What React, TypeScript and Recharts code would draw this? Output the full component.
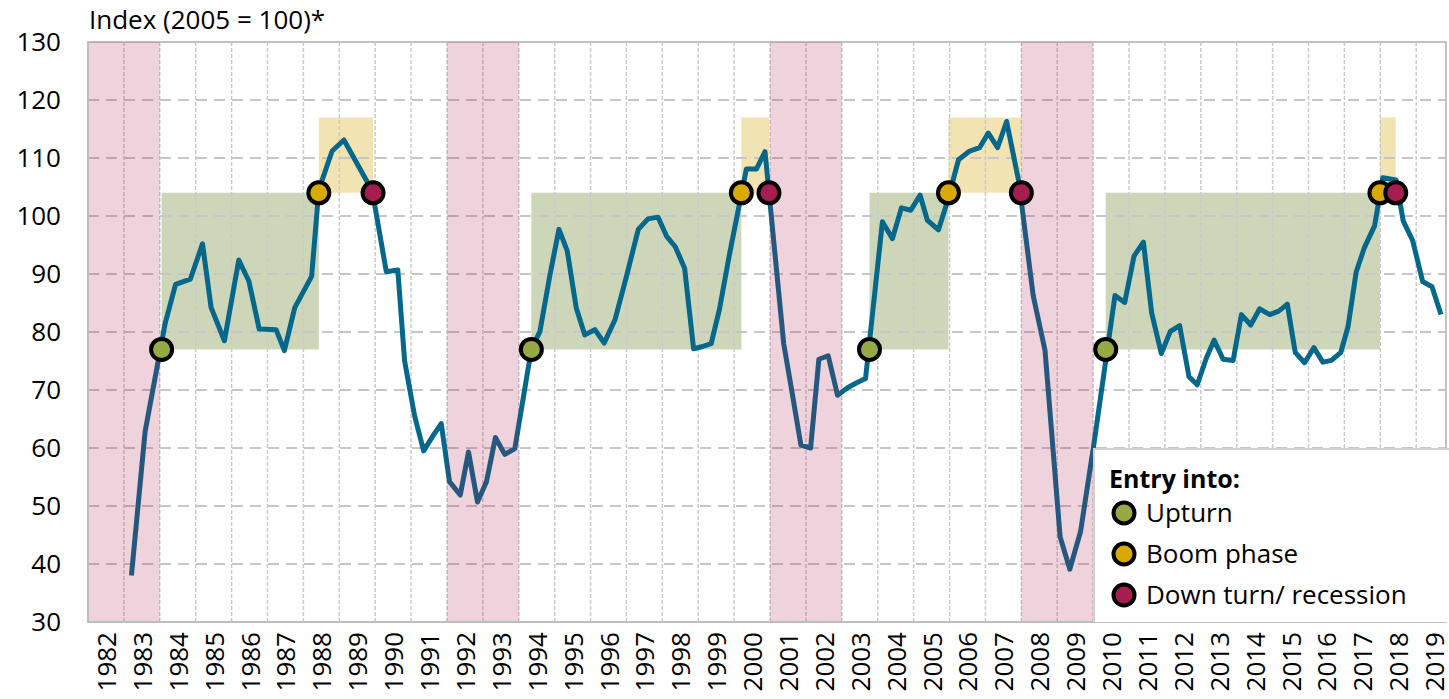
import {
  ComposedChart,
  Line,
  Scatter,
  XAxis,
  YAxis,
  CartesianGrid,
  ReferenceArea,
  ReferenceLine,
} from 'recharts';

const FONT = '"Open Sans", "DejaVu Sans", sans-serif';

// readings of the index line: decimal year and value (2005 = 100)
const period = [
  1983.21, 1983.59, 1984.15, 1984.44, 1984.85, 1985.19, 1985.43, 1985.8, 1986.2, 1986.48,
  1986.77, 1987.24, 1987.47, 1987.76, 1988.23, 1988.43, 1988.8, 1989.13, 1989.92, 1990.31,
  1990.63, 1990.82, 1991.1, 1991.35, 1991.6, 1991.84, 1992.07, 1992.37, 1992.6, 1992.85,
  1993.1, 1993.35, 1993.61, 1993.89, 1994.35, 1994.59, 1994.87, 1995.12, 1995.35, 1995.6,
  1995.84, 1996.12, 1996.38, 1996.68, 1997.0, 1997.33, 1997.6, 1997.88, 1998.12, 1998.36,
  1998.62, 1998.87, 1999.12, 1999.36, 1999.59, 1999.87, 2000.34, 2000.62, 2000.86, 2001.38,
  2001.61, 2001.86, 2002.13, 2002.36, 2002.62, 2002.88, 2003.16, 2003.4, 2003.66, 2004.13,
  2004.41, 2004.66, 2004.92, 2005.18, 2005.38, 2005.69, 2005.94, 2006.25, 2006.56, 2006.84,
  2007.08, 2007.34, 2007.59, 2007.93, 2008.33, 2008.66, 2009.08, 2009.35, 2009.65, 2010.01,
  2010.61, 2010.88, 2011.14, 2011.4, 2011.63, 2011.9, 2012.15, 2012.41, 2012.67, 2012.9,
  2013.16, 2013.37, 2013.62, 2013.9, 2014.13, 2014.39, 2014.64, 2014.92, 2015.17, 2015.41,
  2015.63, 2015.89, 2016.15, 2016.4, 2016.64, 2016.9, 2017.1, 2017.33, 2017.56, 2017.84,
  2018.07, 2018.44, 2018.64, 2018.9, 2019.18, 2019.44, 2019.69,
];
const index = [
  38, 62.8, 81.5, 88.2, 89.1, 95.2, 84.2, 78.5, 92.4, 88.8,
  80.5, 80.4, 76.8, 84.2, 89.6, 104.5, 111.2, 113.1, 104.3, 90.4,
  90.7, 75, 65.5, 59.5, 62, 64.2, 54.2, 51.9, 59.3, 50.7,
  54.2, 61.8, 58.9, 59.9, 77, 80.1, 89.9, 97.7, 94, 84.2,
  79.5, 80.4, 78.1, 82.1, 89.6, 97.7, 99.5, 99.8, 96.5, 94.7,
  91, 77.1, 77.5, 78, 83.9, 93.4, 108.1, 108.1, 111.1, 78,
  69.7, 60.5, 60, 75.3, 75.9, 69.1, 70.4, 71.2, 72, 99,
  96.1, 101.4, 101, 103.6, 99.3, 97.6, 102.5, 109.7, 111.2, 111.8,
  114.3, 111.8, 116.3, 105.9, 86.3, 76.8, 44.7, 39.1, 45.6, 60.2,
  86.3, 85.1, 93.1, 95.5, 83.3, 76.3, 80.1, 81.1, 72.3, 70.9,
  75.6, 78.6, 75.3, 75.1, 83, 81.2, 84, 83, 83.6, 84.8,
  76.5, 74.7, 77.3, 74.8, 75.1, 76.5, 80.9, 90.4, 94.6, 98.3,
  106.6, 106.2, 99.1, 95.8, 88.7, 87.8, 83,
];

// cycle phases: dates of entry into each phase
const upturnEntry = [1984.05, 1994.35, 2003.77, 2010.35];
const boomEntry = [1988.43, 2000.2, 2005.97, 2017.99];
const downturnEntry = [1989.94, 2000.97, 2008.0, 2018.43];
const upturnLevel = 77;
const boomLevel = 104;
const boomTop = 117;

// recessions (shaded)
const recessionStart = [1982, 1992, 2001, 2008];
const recessionEnd = [1984, 1994, 2003, 2010];

const years = [
  1982, 1983, 1984, 1985, 1986, 1987, 1988, 1989, 1990, 1991, 1992, 1993, 1994,
  1995, 1996, 1997, 1998, 1999, 2000, 2001, 2002, 2003, 2004, 2005, 2006, 2007,
  2008, 2009, 2010, 2011, 2012, 2013, 2014, 2015, 2016, 2017, 2018, 2019,
];
const yTicks = [30, 40, 50, 60, 70, 80, 90, 100, 110, 120, 130];
const xMin = 1982;
const xMax = 2019.83;

const GREEN = '#95aa45';
const YELLOW = '#d9a900';
const RED = '#a61d50';

const lineData = period.map((t, i) => ({ t, v: index[i] }));
const upturnDots = upturnEntry.map(t => ({ t, v: upturnLevel }));
const boomDots = boomEntry.map(t => ({ t, v: boomLevel }));
const downDots = downturnEntry.map(t => ({ t, v: boomLevel }));

const phaseDot = (color: string) => (props: any) => (
  <circle cx={props.cx} cy={props.cy} r={10.5} fill={color} stroke="#000" strokeWidth={4} />
);

function YearTick({ x, y, payload }: any) {
  const ty = y + 10;
  return (
    <text
      x={x}
      y={ty}
      transform={`rotate(-90 ${x} ${ty})`}
      textAnchor="end"
      dominantBaseline="central"
      fontSize={26}
      fontFamily={FONT}
      fill="#000"
    >
      {Math.floor(payload.value)}
    </text>
  );
}

function LegendDot({ color }: { color: string }) {
  return (
    <svg width={28} height={28} style={{ position: 'absolute', left: 15, top: 7 }}>
      <circle cx={14} cy={14} r={10.5} fill={color} stroke="#000" strokeWidth={4} />
    </svg>
  );
}

const legendItems = [
  { label: 'Upturn', color: GREEN },
  { label: 'Boom phase', color: YELLOW },
  { label: 'Down turn/ recession', color: RED },
];

export default function App() {
  return (
    <div style={{ position: 'absolute', left: 0, top: 0, width: 1449, height: 699, background: '#fff', fontFamily: FONT }}>
      <div style={{ position: 'absolute', left: 89, top: 3, fontSize: 26, lineHeight: '32px', color: '#000' }}>
        Index (2005 = 100)*
      </div>
      <ComposedChart width={1449} height={699} margin={{ top: 42, right: 3, bottom: 0, left: 0 }}>
        {/* phase boxes */}
        {upturnEntry.map((t, i) => (
          <ReferenceArea
            key={`g${i}`}
            x1={t}
            x2={boomEntry[i]}
            y1={upturnLevel}
            y2={boomLevel}
            fill="#cdd6b9"
            fillOpacity={1}
            stroke="none"
            zIndex={-200}
          />
        ))}
        {boomEntry.map((t, i) => (
          <ReferenceArea
            key={`y${i}`}
            x1={t}
            x2={downturnEntry[i]}
            y1={boomLevel}
            y2={boomTop}
            fill="#f2e3b2"
            fillOpacity={1}
            stroke="none"
            zIndex={-200}
          />
        ))}
        <CartesianGrid vertical={false} stroke="#c6c6c6" strokeWidth={2} strokeDasharray="11 7" zIndex={-100} />
        {years.slice(1).map(y => (
          <ReferenceLine key={`v${y}`} x={y} stroke="#cacaca" strokeWidth={1.5} strokeDasharray="4 2" zIndex={-90} />
        ))}
        <XAxis
          dataKey="t"
          type="number"
          domain={[xMin, xMax]}
          ticks={years.map(y => y + 0.5)}
          interval={0}
          allowDataOverflow
          height={77}
          tickSize={0}
          tickMargin={0}
          tickLine={false}
          axisLine={{ stroke: '#bdbdbd', strokeWidth: 2 }}
          tick={<YearTick />}
        />
        <YAxis
          type="number"
          domain={[30, 130]}
          ticks={yTicks}
          interval={0}
          width={88}
          tickSize={0}
          tickMargin={27}
          tickLine={false}
          axisLine={{ stroke: '#bdbdbd', strokeWidth: 2 }}
          tick={{ fontSize: 26, fill: '#000', fontFamily: FONT }}
        />
        <ReferenceArea x1={xMin} x2={xMax} y1={30} y2={130} fill="none" stroke="#c2c2c2" strokeWidth={2} zIndex={-80} />
        <Line
          data={lineData}
          dataKey="v"
          type="linear"
          stroke="#05678a"
          strokeWidth={5}
          strokeLinejoin="round"
          dot={false}
          activeDot={false}
          isAnimationActive={false}
          zIndex={400}
        />
        {/* recessions, drawn translucent over the line */}
        {recessionStart.map((s, i) => (
          <ReferenceArea
            key={`r${i}`}
            x1={s}
            x2={recessionEnd[i]}
            y1={30}
            y2={130}
            fill="rgb(170, 30, 80)"
            fillOpacity={0.2}
            stroke="none"
            zIndex={450}
          />
        ))}
        <Scatter data={upturnDots} dataKey="v" shape={phaseDot(GREEN)} isAnimationActive={false} zIndex={600} />
        <Scatter data={boomDots} dataKey="v" shape={phaseDot(YELLOW)} isAnimationActive={false} zIndex={600} />
        <Scatter data={downDots} dataKey="v" shape={phaseDot(RED)} isAnimationActive={false} zIndex={600} />
      </ComposedChart>
      <div
        style={{
          position: 'absolute',
          left: 1093,
          top: 448,
          width: 356,
          height: 174,
          boxSizing: 'border-box',
          background: '#fff',
          borderTop: '2px solid #d0d0d0',
          borderLeft: '2px solid #d0d0d0',
          color: '#000',
        }}
      >
        <div style={{ position: 'absolute', left: 14, top: 12, fontSize: 25, fontWeight: 700, lineHeight: '32px' }}>
          Entry into:
        </div>
        {legendItems.map((item, i) => (
          <div key={item.label} style={{ position: 'absolute', left: 0, top: 42 + i * 41, width: 354, height: 41 }}>
            <LegendDot color={item.color} />
            <span style={{ position: 'absolute', left: 51, top: 0, fontSize: 26, lineHeight: '41px', whiteSpace: 'nowrap' }}>
              {item.label}
            </span>
          </div>
        ))}
      </div>
    </div>
  );
}
